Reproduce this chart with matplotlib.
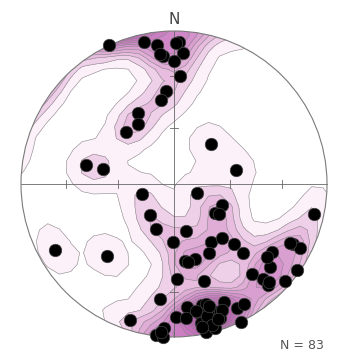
import numpy as np
import matplotlib.pyplot as plt
from matplotlib.colors import LinearSegmentedColormap
from matplotlib.patches import Circle

# lineazioni: direzione (trend) e inclinazione (plunge), in gradi
trend = [335, 348, 353, 355, 2, 4, 0, 3, 355, 351, 333, 329,
         317, 1, 354, 43, 282, 282, 77, 241, 223, 253, 112, 114,
         125, 124, 217, 202, 166, 181, 147, 138, 135, 135, 153, 172,
         164, 102, 117, 117, 125, 131, 125, 139, 137, 137, 131, 178,
         163, 187, 198, 184, 187, 184, 179, 174, 167, 165, 169, 163,
         160, 157, 169, 165, 161, 168, 153, 150, 154, 170, 164, 166,
         170, 165, 175, 159, 164, 162, 136, 117, 128, 185, 169]
plunge = [0, 6, 9, 17, 8, 15, 21, 30, 39, 44, 47, 52,
          52, 9, 16, 61, 41, 51, 56, 12, 36, 72, 77, 62,
          63, 61, 69, 64, 64, 59, 53, 51, 44, 36, 48, 48,
          48, 7, 14, 8, 23, 18, 2, 23, 16, 11, 4, 38,
          34, 25, 7, 6, 1, 0, 14, 20, 20, 20, 15, 14,
          13, 17, 8, 6, 8, 1, 10, 10, 0, 17, 2, 12,
          47, 5, 13, 13, 18, 8, 12, 16, 24, 3, 5]

tr = np.radians(trend)
pl = np.radians(plunge)

# proiezione equiarea (Schmidt), emisfero inferiore
def schmidt(t, p):
    r = np.sqrt(2) * np.sin((np.pi/2 - p) / 2)
    return r * np.sin(t), r * np.cos(t)

def versori(t, p):
    return np.stack([np.cos(p)*np.sin(t), np.cos(p)*np.cos(t), -np.sin(p)], axis=-1)

px, py = schmidt(tr, pl)
v = versori(tr, pl)

# griglia per la densita' (kernel esponenziale assiale)
ng = 29
gx, gy = np.meshgrid(np.linspace(-1.05, 1.05, ng), np.linspace(-1.05, 1.05, ng))
gr = np.clip(np.hypot(gx, gy), 0, np.sqrt(2))
gt = np.arctan2(gx, gy)
gp = np.pi/2 - 2*np.arcsin(gr/np.sqrt(2))
g = versori(gt, gp)
k = 70.0
cosang = np.abs(g @ v.T)
dens = np.exp(k*(cosang - 1)).sum(axis=-1)

livelli = np.arange(0.27, dens.max() + 0.73, 0.73)
viola = LinearSegmentedColormap.from_list('viola', ['#fcf0f9', '#f0d3ea', '#e0acd7', '#cf84c6', '#c064b7', '#b04ca8'])
nb = len(livelli) - 1
colori = [viola((i/(nb-1))**0.55) for i in range(nb)]

R0 = 153.0
fig = plt.figure(figsize=(3.39, 3.55), dpi=100)
ax = fig.add_axes([0, 0, 1, 1])
ax.set_xlim(-174/R0, (339-174)/R0)
ax.set_ylim(-(355-184)/R0, 184/R0)
ax.axis('off')

bordo = Circle((0, 0), 1, transform=ax.transData, facecolor='none')
cf = ax.contourf(gx, gy, dens, levels=livelli, colors=colori, zorder=1)
cf.set_clip_path(bordo)
cl = ax.contour(gx, gy, dens, levels=livelli, colors='#8a8a8a', linewidths=0.4, zorder=2)
cl.set_clip_path(bordo)

# croce e tacche a 30 e 60 gradi
ax.plot([-1, 1], [0, 0], color='#666666', lw=0.6, zorder=3)
ax.plot([0, 0], [-1, 1], color='#666666', lw=0.6, zorder=3)
for ang in [30, 60]:
    rt = np.sqrt(2)*np.sin(np.radians(ang)/2)
    for s in [-1, 1]:
        ax.plot([s*rt, s*rt], [-0.028, 0.028], color='#666666', lw=0.6, zorder=3)
        ax.plot([-0.028, 0.028], [s*rt, s*rt], color='#666666', lw=0.6, zorder=3)
ax.add_patch(Circle((0, 0), 1, facecolor='none', edgecolor='#7a7a7a', lw=0.8, zorder=3))

ax.plot(px, py, 'o', color='black', markersize=9, markeredgecolor='#444444', markeredgewidth=0.5, zorder=4)

ax.text(0, 1.075, 'N', ha='center', va='center', fontsize=11, color='#444444')
ax.text(0.98, -1.078, 'N = %d' % len(trend), ha='right', va='baseline', fontsize=9, color='#555555')

fig.savefig('out.png')
